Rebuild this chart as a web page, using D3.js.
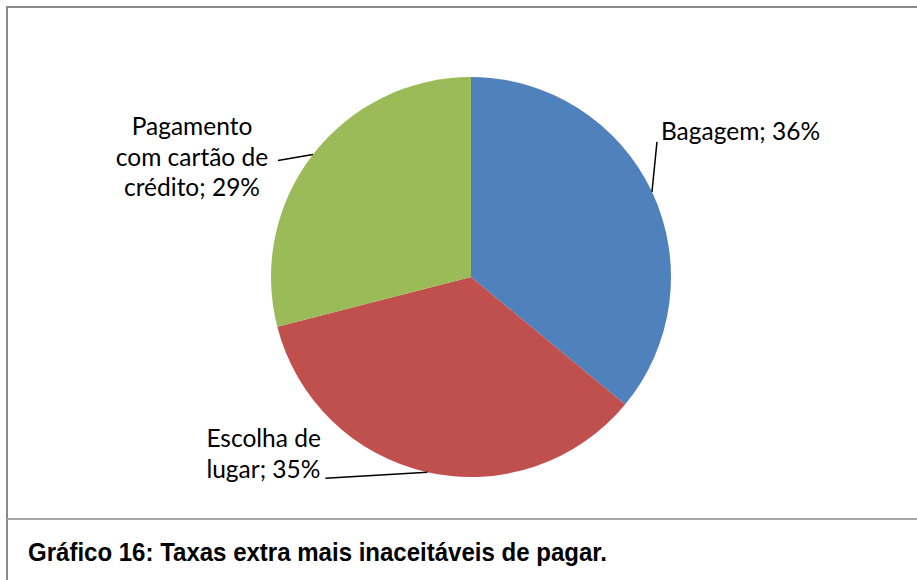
<!DOCTYPE html>
<html>
<head>
<meta charset="utf-8">
<script src="https://cdn.jsdelivr.net/npm/d3@7"></script>
<style>
  body { margin: 0; background: #fff; }
  svg { display: block; }
  .lbl { font-family: Lato, "Open Sans", sans-serif; font-size: 24.5px; fill: #000; }
  .caption { font-family: "Liberation Sans Narrow", "Arial Narrow", "Liberation Sans", sans-serif; font-weight: bold; font-size: 25px; fill: #000; }
</style>
</head>
<body>
<svg id="chart" width="917" height="580"></svg>
<script>
// data
var categories = ['Bagagem', 'Escolha de lugar', 'Pagamento com cartão de crédito'];
var values = [36, 35, 29];
var labelLines = [['Bagagem; 36%'], ['Escolha de', 'lugar; 35%'], ['Pagamento', 'com cartão de', 'crédito; 29%']];
var colors = ['#4F81BD', '#C0504D', '#9BBB59'];
var caption = 'Gráfico 16: Taxas extra mais inaceitáveis de pagar.';

// label placement (leader end offset from slice edge, text offset from leader end)
var labelLayout = [
  {dx: 5, dy: -50, tx: 4, ty: -2, anchor: 'start'},
  {dx: -102, dy: 6, tx: -119, ty: -31, anchor: 'start'},
  {dx: -35, dy: 6, tx: -86, ty: -25, anchor: 'middle'}
];

var svg = d3.select('#chart');
var W = 917, H = 580;

// frame
svg.append('rect')
  .attr('x', 7).attr('y', 7)
  .attr('width', W).attr('height', H)
  .attr('fill', 'none')
  .attr('stroke', '#8a8a8a')
  .attr('stroke-width', 2);
svg.append('line')
  .attr('x1', 7).attr('x2', W)
  .attr('y1', 519).attr('y2', 519)
  .attr('stroke', '#a6a6a6')
  .attr('stroke-width', 2);

var cx = 471, cy = 277, r = 200;
var g = svg.append('g').attr('transform', 'translate(' + cx + ',' + cy + ')');

var pie = d3.pie().sort(null).value(function(d){ return d; });
var arcs = pie(values);
var arc = d3.arc().innerRadius(0).outerRadius(r);

g.selectAll('path.slice')
  .data(arcs)
  .enter()
  .append('path')
  .attr('class', 'slice')
  .attr('d', arc)
  .attr('fill', function(d, i){ return colors[i]; });

function edge(d){
  var a = (d.startAngle + d.endAngle) / 2;
  return [r * Math.sin(a), -r * Math.cos(a)];
}

arcs.forEach(function(d, i){
  var p = edge(d), L = labelLayout[i];
  var end = [p[0] + L.dx, p[1] + L.dy];
  g.append('line')
    .attr('x1', p[0]).attr('y1', p[1])
    .attr('x2', end[0]).attr('y2', end[1])
    .attr('stroke', '#000')
    .attr('stroke-width', 1.5);
  var t = g.append('text')
    .attr('class', 'lbl')
    .attr('text-anchor', L.anchor)
    .attr('x', end[0] + L.tx)
    .attr('y', end[1] + L.ty);
  t.selectAll('tspan')
    .data(labelLines[i])
    .enter()
    .append('tspan')
    .attr('x', end[0] + L.tx)
    .attr('dy', function(s, j){ return j === 0 ? 0 : 30.5; })
    .text(function(s){ return s; });
});

svg.append('text')
  .attr('class', 'caption')
  .attr('x', 28)
  .attr('y', 561)
  .attr('textLength', 579)
  .attr('lengthAdjust', 'spacingAndGlyphs')
  .text(caption);
</script>
</body>
</html>
